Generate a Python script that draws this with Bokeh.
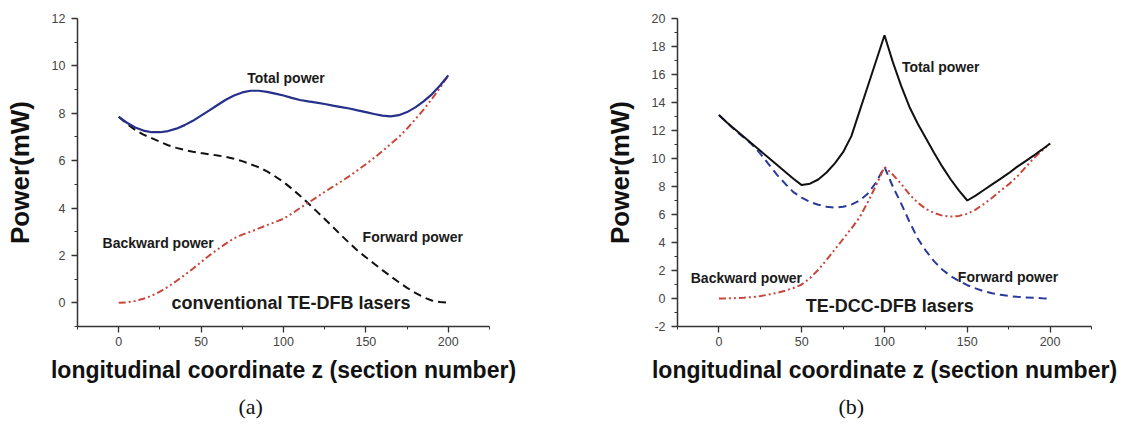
from bokeh.plotting import figure
from bokeh.layouts import row
from bokeh.models import FixedTicker, Title, Range1d, CustomJSTickFormatter
from bokeh.embed import file_html
from bokeh.resources import INLINE
from bokeh.core.properties import value

# ---------------- data: panel (a) conventional TE-DFB ----------------
z_a = [0, 5, 10, 15, 20, 25, 30, 35, 40, 45, 50, 55, 60, 65, 70, 75, 80, 85, 90, 95, 100,
       105, 110, 115, 120, 125, 130, 135, 140, 145, 150, 155, 160, 165, 170, 175, 180, 185, 190, 195, 200]
total_a = [7.85, 7.6, 7.4, 7.27, 7.2, 7.2, 7.25, 7.35, 7.5, 7.68, 7.9, 8.12, 8.35, 8.57, 8.75, 8.88,
           8.95, 8.95, 8.9, 8.83, 8.75, 8.65, 8.56, 8.5, 8.45, 8.39, 8.32, 8.26, 8.2, 8.12, 8.05,
           7.97, 7.9, 7.87, 7.92, 8.05, 8.25, 8.5, 8.8, 9.17, 9.6]
forward_a = [7.85, 7.55, 7.3, 7.1, 6.95, 6.8, 6.65, 6.54, 6.45, 6.38, 6.32, 6.27, 6.22, 6.16, 6.08,
             5.98, 5.85, 5.72, 5.55, 5.33, 5.1, 4.82, 4.52, 4.2, 3.87, 3.54, 3.2, 2.85, 2.52, 2.2,
             1.92, 1.65, 1.38, 1.12, 0.87, 0.63, 0.42, 0.23, 0.1, 0.03, 0.0]
backward_a = [0.0, 0.02, 0.08, 0.17, 0.3, 0.47, 0.68, 0.92, 1.17, 1.44, 1.72, 2.0, 2.25, 2.5, 2.72,
              2.88, 3.0, 3.14, 3.28, 3.41, 3.55, 3.76, 4.0, 4.22, 4.45, 4.68, 4.9, 5.12, 5.35, 5.6,
              5.85, 6.12, 6.4, 6.7, 7.0, 7.35, 7.75, 8.15, 8.6, 9.08, 9.6]

# ---------------- data: panel (b) TE-DCC-DFB ----------------
z_b = [0, 5, 10, 15, 20, 25, 30, 35, 40, 45, 50, 55, 60, 65, 70, 75, 80, 85, 90, 95, 100,
       105, 110, 115, 120, 125, 130, 135, 140, 145, 150, 155, 160, 165, 170, 175, 180, 185, 190, 195, 200]
total_b = [13.1, 12.55, 12.05, 11.55, 11.05, 10.55, 10.05, 9.55, 9.05, 8.55, 8.1, 8.2, 8.5, 9.0,
           9.65, 10.45, 11.6, 13.4, 15.2, 17.0, 18.8, 16.9, 15.2, 13.7, 12.5, 11.45, 10.4, 9.4,
           8.5, 7.7, 7.0, 7.35, 7.75, 8.15, 8.55, 8.95, 9.4, 9.8, 10.2, 10.63, 11.07]
forward_b = [13.1, 12.55, 12.0, 11.5, 11.0, 10.35, 9.6, 8.85, 8.2, 7.6, 7.2, 6.9, 6.7, 6.55, 6.5,
             6.55, 6.7, 7.0, 7.5, 8.3, 9.4, 8.0, 6.8, 5.5, 4.3, 3.4, 2.65, 2.05, 1.6, 1.25, 0.95,
             0.72, 0.52, 0.37, 0.26, 0.18, 0.12, 0.08, 0.05, 0.02, 0.0]
backward_b = [0.0, 0.01, 0.03, 0.06, 0.1, 0.17, 0.28, 0.4, 0.55, 0.75, 1.0, 1.45, 2.05, 2.75, 3.5,
              4.25, 5.0, 5.8, 6.9, 8.1, 9.4, 8.85, 8.2, 7.45, 6.85, 6.4, 6.1, 5.92, 5.85, 5.9, 6.05,
              6.35, 6.75, 7.2, 7.7, 8.15, 8.7, 9.35, 10.0, 10.55, 11.07]

x_major = [0, 50, 100, 150, 200]
x_minor = [-25, 25, 75, 125, 175, 225]
y_major_a = [0, 2, 4, 6, 8, 10, 12]
y_minor_a = [-1, 1, 3, 5, 7, 9, 11]
y_major_b = [-2, 0, 2, 4, 6, 8, 10, 12, 14, 16, 18, 20]
y_minor_b = [-1, 1, 3, 5, 7, 9, 11, 13, 15, 17, 19]

SANS = "Liberation Sans"
SERIF = "Liberation Serif"


def make_panel(width, left, right, yr, ymaj, ymin, caption):
    p = figure(width=width, height=429, output_backend="svg", toolbar_location=None,
               x_range=Range1d(-25, 225), y_range=Range1d(*yr),
               min_border_left=left, min_border_right=right, min_border_top=18,
               min_border_bottom=103)
    p.outline_line_color = None
    p.grid.visible = False
    p.background_fill_color = "white"
    p.border_fill_color = "white"
    p.xaxis.ticker = FixedTicker(ticks=x_major, minor_ticks=x_minor)
    p.yaxis.ticker = FixedTicker(ticks=ymaj, minor_ticks=ymin)
    for ax in (p.xaxis[0], p.yaxis[0]):
        ax.formatter = CustomJSTickFormatter(code="return tick.toString();")
        ax.axis_line_color = "#333333"
        ax.axis_line_width = 1.5
        ax.major_tick_line_color = "#333333"
        ax.minor_tick_line_color = "#333333"
        ax.major_tick_line_width = 1.3
        ax.minor_tick_line_width = 1.0
        ax.major_tick_in = 0
        ax.major_tick_out = 6
        ax.minor_tick_in = 0
        ax.minor_tick_out = 3
        ax.major_label_text_font = SANS
        ax.major_label_text_font_size = "12.5px"
        ax.major_label_text_color = "#444444"
        ax.axis_label_text_font = SANS
        ax.axis_label_text_font_style = "bold"
        ax.axis_label_text_color = "#111111"
    p.xaxis.axis_label = "longitudinal coordinate z (section number)"
    p.xaxis.axis_label_text_font_size = "23px"
    p.xaxis.major_label_standoff = 4
    p.xaxis.axis_label_standoff = 8
    p.yaxis.axis_label = "Power(mW)"
    p.yaxis.axis_label_text_font_size = "26px"
    p.yaxis.major_label_standoff = 6
    p.yaxis.axis_label_standoff = 14
    cap = Title(text=caption, text_font=SERIF, text_font_size="22px", text_font_style="normal",
                text_color="#111111", align="left", offset=161, standoff=12)
    p.add_layout(cap, "below")
    return p


def note(p, x, y, txt, size):
    p.text(x=[x], y=[y], text=[txt], text_font=value(SANS), text_font_size=size,
           text_font_style="bold", text_color="#1a1a1a", text_align="left",
           text_baseline="middle")


# panel (a)
pa = make_panel(566, 77, 77, (-1, 12), y_major_a, y_minor_a, "(a)")
pa.line(z_a, forward_a, line_color="#111111", line_width=2, line_dash="8 5")
pa.line(z_a, backward_a, line_color="#c8463a", line_width=2, line_dash="7 3 2 3 2 3")
pa.line(z_a, total_a, line_color="#26308a", line_width=2.2)
note(pa, 78, 9.47, "Total power", "14px")
note(pa, -9.8, 2.54, "Backward power", "14px")
note(pa, 148, 2.76, "Forward power", "14px")
note(pa, 32, 0.0, "conventional TE-DFB lasers", "18px")

# panel (b)
pb = make_panel(567, 111, 42, (-2, 20), y_major_b, y_minor_b, "(b)")
pb.line(z_b, forward_b, line_color="#2a3a9a", line_width=2, line_dash="8 5")
pb.line(z_b, backward_b, line_color="#c8463a", line_width=2, line_dash="7 3 2 3 2 3")
pb.line(z_b, total_b, line_color="#111111", line_width=2)
note(pb, 110.5, 16.57, "Total power", "14px")
note(pb, -17, 1.5, "Backward power", "14px")
note(pb, 144.3, 1.57, "Forward power", "14px")
note(pb, 52.5, -0.57, "TE-DCC-DFB lasers", "18px")

layout = row(pa, pb, spacing=0)
open("out.html", "w").write(file_html(layout, INLINE))
